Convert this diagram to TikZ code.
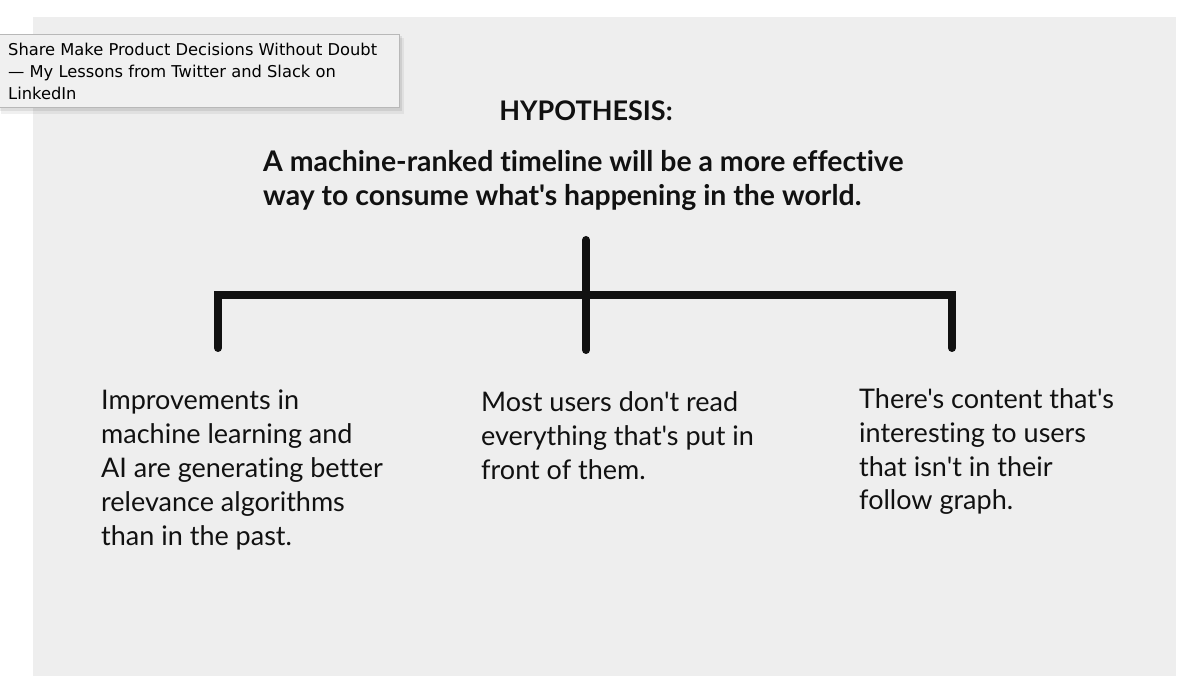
\documentclass[tikz,border=0pt]{standalone}
\usepackage{fontspec}
\setmainfont{Lato}[Ligatures={TeXOff,NoCommon}]
\newfontfamily\tipfont{DejaVu Sans}
\definecolor{panel}{HTML}{EEEEEE}
\definecolor{tipbg}{HTML}{F0F0F0}
\definecolor{tipborder}{HTML}{B8B8B8}
\definecolor{ink}{HTML}{111111}
\tikzset{
  x=1pt, y=-1pt,
  branch/.style={line width=8pt, draw=ink, line cap=round, line join=miter},
  body/.style={anchor=base west, align=left, inner sep=0pt, text=ink,
    font=\fontsize{27}{34}\selectfont},
  head/.style={align=left, inner sep=0pt, text=ink,
    font=\bfseries\fontsize{28.4}{34}\selectfont},
}
\begin{document}
\begin{tikzpicture}
\useasboundingbox (0,0) rectangle (1200,692);
\fill[white] (0,0) rectangle (1200,692);
\fill[panel] (33,17) rectangle (1176,676);

% heading
\node[head, anchor=base, font=\bfseries\fontsize{27}{34}\selectfont] (hyp) at (586,121) {HYPOTHESIS:};
\node[head, anchor=base west] (claim) at (263,206)
  {A machine-ranked timeline will be a more effective\\way to consume what's happening in the world.};

% tree
\coordinate (top) at (586,240);
\coordinate (mid) at (586,295);
\coordinate (hl) at (218,295);
\coordinate (hr) at (952,295);
\coordinate (bl) at (218,348);
\coordinate (bm) at (586,350);
\coordinate (br) at (952,348);
\draw[branch] (top) -- (bm);
\draw[branch] (bl) -- (hl) -- (hr) -- (br);

% leaves (anchor = baseline of last line)
\node[body] (left) at (101,545)
  {Improvements in\\machine learning and\\AI are generating better\\relevance algorithms\\than in the past.};
\node[body] (center) at (481,479)
  {Most users don't read\\everything that's put in\\front of them.};
\node[body] (right) at (859,510)
  {There's content that's\\interesting to users\\that isn't in their\\follow graph.};

% tooltip
\fill[black, opacity=0.06] (1,38) rectangle (404,114);
\fill[black, opacity=0.08] (0,36) rectangle (402,111);
\draw[fill=tipbg, draw=tipborder, line width=1pt] (-1,35) rectangle (399,108);
\node[anchor=base west, align=left, inner sep=0pt, text=black,
  font=\tipfont\fontsize{16.3}{22}\selectfont] (tip) at (8,100)
  {Share Make Product Decisions Without Doubt\\— My Lessons from Twitter and Slack on\\LinkedIn};
\end{tikzpicture}
\end{document}
